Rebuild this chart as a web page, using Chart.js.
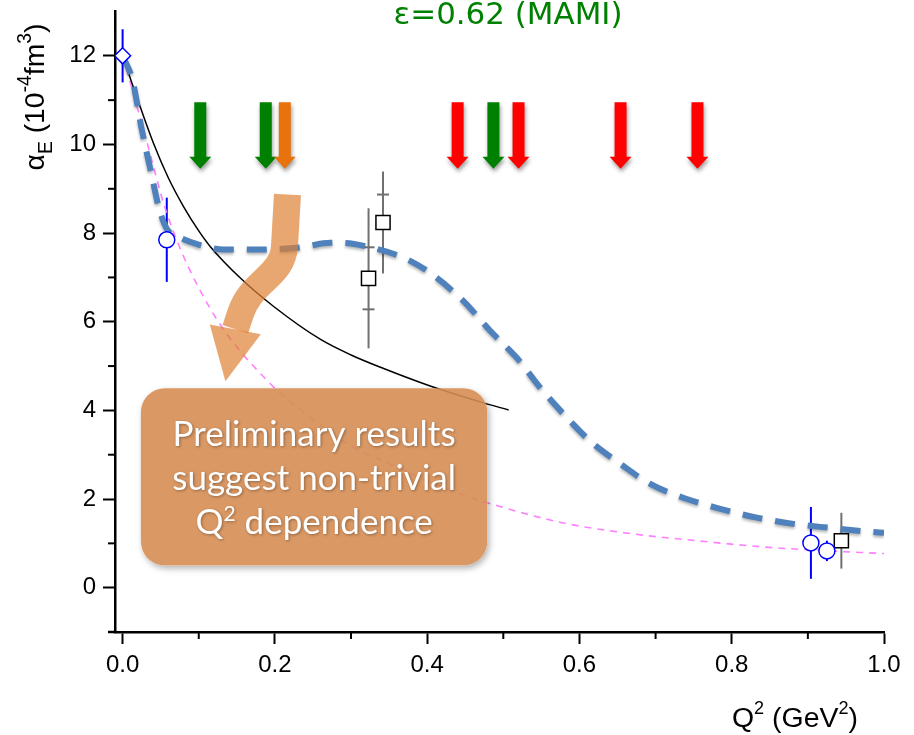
<!DOCTYPE html>
<html>
<head>
<meta charset="utf-8">
<script src="https://cdn.jsdelivr.net/npm/chart.js@4.4.1/dist/chart.umd.min.js"></script>
<style>
  html, body { margin: 0; padding: 0; background: #fff; }
  #c { display: block; }
</style>
</head>
<body>
<canvas id="c" width="914" height="735"></canvas>
<script>
// Axis ticks
var xMajorTicks = [0, 0.2, 0.4, 0.6, 0.8, 1.0];
var xMinorTicks = [0.1, 0.3, 0.5, 0.7, 0.9];
var yMajorTicks = [0, 2, 4, 6, 8, 10, 12];
var yMinorTicks = [1, 3, 5, 7, 9, 11];

// Thin magenta dashed curve
var pinkQ2    = [0, 0.028, 0.059, 0.115, 0.194, 0.25, 0.3, 0.35, 0.43, 0.492, 0.579, 0.667, 0.754, 0.841, 0.929, 1.0];
var pinkAlpha = [12, 10.3, 8.4, 6.3, 4.6, 3.8, 3.2, 2.8, 2.2, 1.85, 1.46, 1.22, 1.06, 0.92, 0.83, 0.77];

// Black solid curve
var blackQ2    = [0, 0.02, 0.04, 0.06, 0.08, 0.1, 0.115, 0.155, 0.198, 0.26, 0.3, 0.342, 0.404, 0.474, 0.507];
var blackAlpha = [12, 11.0, 10.05, 9.25, 8.6, 8.05, 7.7, 6.98, 6.35, 5.6, 5.25, 4.95, 4.55, 4.17, 4.01];

// Thick blue dashed curve
var bandQ2    = [0, 0.013, 0.025, 0.037, 0.048, 0.058, 0.073, 0.098, 0.133, 0.177, 0.234, 0.273, 0.29, 0.325, 0.371, 0.404,
                 0.448, 0.483, 0.518, 0.549, 0.579, 0.614, 0.654, 0.693, 0.741, 0.785, 0.833, 0.881, 0.929, 0.982, 1.0];
var bandAlpha = [12, 11.45, 10.35, 9.4, 8.55, 8.1, 7.92, 7.75, 7.63, 7.63, 7.68, 7.78, 7.78, 7.68, 7.43, 7.1,
                 6.46, 5.79, 5.18, 4.5, 3.92, 3.31, 2.79, 2.34, 2.0, 1.78, 1.58, 1.44, 1.35, 1.26, 1.24];

// Measured points
var diamondQ2 = [0.0], diamondAlpha = [12.0], diamondErr = [0.6];
var circleQ2 = [0.058, 0.904, 0.925], circleAlpha = [7.85, 1.01, 0.83], circleErr = [0.95, 0.81, 0.23];
var squareQ2 = [0.323, 0.342, 0.944], squareAlpha = [6.98, 8.24, 1.06];
var squareErr = [1.58, 1.15, 0.63], squareStatErr = [0.7, 0.63, null];

// Kinematic arrows along the top
var arrowQ2 = [0.102, 0.188, 0.213, 0.44, 0.487, 0.52, 0.654, 0.755];
var arrowColors = ['#008000', '#008000', '#e8720c', '#ff0000', '#008000', '#ff0000', '#ff0000', '#ff0000'];
var arrowTop = 10.95, arrowBottom = 9.45;

// Callout (data units)
var calloutBox = { q0: 0.024, q1: 0.479, a0: 4.5, a1: 0.5 };
var calloutLines = ['Preliminary results', 'suggest non-trivial', 'dependence'];
var curvedArrow = [[0.2165, 8.87], [0.2126, 7.70], [0.21, 7.02], [0.168, 6.91], [0.155, 6.19], [0.148, 5.83], [0.135, 4.66]];

function pts(xs, ys) {
  return xs.map(function (x, i) { return { x: x, y: ys[i] }; });
}

var SANS = '"Liberation Sans", Arial, sans-serif';
Chart.defaults.font.family = SANS;
Chart.defaults.color = '#000';

var BLUE = '#0000ff';
var GREY = '#707070';

// Error bars go under the curves and markers.
var errorBars = {
  id: 'errorBars',
  beforeDatasetsDraw: function (chart) {
    var ctx = chart.ctx, xs = chart.scales.x, ys = chart.scales.y;
    ctx.save();
    ctx.lineWidth = 2;
    ctx.strokeStyle = BLUE;
    function vbar(q, a, e) {
      var px = xs.getPixelForValue(q);
      ctx.beginPath();
      ctx.moveTo(px, ys.getPixelForValue(a + e));
      ctx.lineTo(px, ys.getPixelForValue(a - e));
      ctx.stroke();
    }
    diamondQ2.forEach(function (q, i) { vbar(q, diamondAlpha[i], diamondErr[i]); });
    circleQ2.forEach(function (q, i) { vbar(q, circleAlpha[i], circleErr[i]); });
    ctx.strokeStyle = GREY;
    squareQ2.forEach(function (q, i) {
      vbar(q, squareAlpha[i], squareErr[i]);
      var s = squareStatErr[i];
      if (s == null) return;
      var px = xs.getPixelForValue(q);
      [squareAlpha[i] + s, squareAlpha[i] - s].forEach(function (v) {
        var py = ys.getPixelForValue(v);
        ctx.beginPath();
        ctx.moveTo(px - 6, py);
        ctx.lineTo(px + 6, py);
        ctx.stroke();
      });
    });
    ctx.restore();
  },
  beforeDatasetDraw: function (chart, args) {
    if (args.index === 2) {
      chart.ctx.save();
      chart.ctx.shadowColor = 'rgba(0,0,0,0.3)';
      chart.ctx.shadowBlur = 3;
      chart.ctx.shadowOffsetY = 2;
    }
  },
  afterDatasetDraw: function (chart, args) {
    if (args.index === 2) chart.ctx.restore();
  }
};

// Text made of pieces (sub/superscripts), scaled to fit a target width.
function drawRich(ctx, parts, x, y, align, target) {
  function measure(k) {
    var total = 0;
    parts.forEach(function (p) {
      ctx.font = (p.size * k) + 'px ' + SANS;
      p.w = ctx.measureText(p.t).width;
      total += p.w;
    });
    return total;
  }
  var k = target ? target / measure(1) : 1;
  var total = measure(k);
  var cx = align === 'center' ? x - total / 2 : x;
  parts.forEach(function (p) {
    ctx.font = (p.size * k) + 'px ' + SANS;
    ctx.fillText(p.t, cx, y + p.dy * k);
    cx += p.w;
  });
}

var annotations = {
  id: 'annotations',
  afterDatasetsDraw: function (chart) {
    var ctx = chart.ctx, xs = chart.scales.x, ys = chart.scales.y;
    var area = chart.chartArea;

    // Minor ticks and the small axis overhang
    ctx.save();
    ctx.strokeStyle = '#000';
    ctx.lineWidth = 2;
    xMinorTicks.forEach(function (v) {
      var px = xs.getPixelForValue(v);
      ctx.beginPath(); ctx.moveTo(px, area.bottom); ctx.lineTo(px, area.bottom + 7); ctx.stroke();
    });
    yMinorTicks.forEach(function (v) {
      var py = ys.getPixelForValue(v);
      ctx.beginPath(); ctx.moveTo(area.left - 7, py); ctx.lineTo(area.left, py); ctx.stroke();
    });
    ctx.lineWidth = 2.5;
    ctx.beginPath(); ctx.moveTo(area.left - 7, area.bottom); ctx.lineTo(area.left, area.bottom); ctx.stroke();
    ctx.restore();

    // Vertical arrows
    var yT = ys.getPixelForValue(arrowTop), yB = ys.getPixelForValue(arrowBottom);
    arrowQ2.forEach(function (q, i) {
      var px = xs.getPixelForValue(q);
      ctx.save();
      ctx.shadowColor = 'rgba(0,0,0,0.4)';
      ctx.shadowBlur = 4;
      ctx.shadowOffsetX = 1;
      ctx.shadowOffsetY = 3;
      ctx.fillStyle = arrowColors[i];
      ctx.beginPath();
      ctx.moveTo(px - 6, yT);
      ctx.lineTo(px + 6, yT);
      ctx.lineTo(px + 6, yB - 12);
      ctx.lineTo(px + 11, yB - 12);
      ctx.lineTo(px, yB);
      ctx.lineTo(px - 11, yB - 12);
      ctx.lineTo(px - 6, yB - 12);
      ctx.closePath();
      ctx.fill();
      ctx.restore();
    });

    // Curved callout arrow
    var P = curvedArrow.map(function (p) { return [xs.getPixelForValue(p[0]), ys.getPixelForValue(p[1])]; });
    ctx.save();
    ctx.strokeStyle = 'rgba(222,128,52,0.7)';
    ctx.fillStyle = 'rgba(222,128,52,0.7)';
    ctx.lineWidth = 27;
    ctx.lineJoin = 'round';
    ctx.beginPath();
    ctx.moveTo(P[0][0], P[0][1]);
    ctx.lineTo(P[1][0], P[1][1]);
    ctx.bezierCurveTo(P[2][0], P[2][1], P[3][0], P[3][1], P[4][0], P[4][1]);
    ctx.lineTo(P[5][0], P[5][1]);
    ctx.stroke();
    var dx = P[6][0] - P[5][0], dy = P[6][1] - P[5][1];
    var len = Math.sqrt(dx * dx + dy * dy);
    var nx = -dy / len * 26, ny = dx / len * 26;
    ctx.beginPath();
    ctx.moveTo(P[5][0] + nx, P[5][1] + ny);
    ctx.lineTo(P[6][0], P[6][1]);
    ctx.lineTo(P[5][0] - nx, P[5][1] - ny);
    ctx.closePath();
    ctx.fill();
    ctx.restore();

    // Callout box: shadow first (outside only), then translucent fill
    var bx0 = xs.getPixelForValue(calloutBox.q0), bx1 = xs.getPixelForValue(calloutBox.q1);
    var by0 = ys.getPixelForValue(calloutBox.a0), by1 = ys.getPixelForValue(calloutBox.a1);
    ctx.save();
    ctx.beginPath();
    ctx.rect(0, 0, chart.width, chart.height);
    ctx.roundRect(bx0, by0, bx1 - bx0, by1 - by0, 24);
    ctx.clip('evenodd');
    ctx.shadowColor = 'rgba(0,0,0,0.3)';
    ctx.shadowBlur = 6;
    ctx.shadowOffsetX = 2;
    ctx.shadowOffsetY = 3;
    ctx.fillStyle = '#fff';
    ctx.beginPath();
    ctx.roundRect(bx0, by0, bx1 - bx0, by1 - by0, 24);
    ctx.fill();
    ctx.restore();
    ctx.save();
    ctx.fillStyle = 'rgba(214,141,83,0.9)';
    ctx.beginPath();
    ctx.roundRect(bx0, by0, bx1 - bx0, by1 - by0, 24);
    ctx.fill();
    ctx.restore();

    ctx.save();
    var fam = 'Lato, "Open Sans", sans-serif';
    ctx.font = '100px ' + fam;
    var fs = 100 * 283 / ctx.measureText(calloutLines[0]).width;
    ctx.fillStyle = '#fff';
    ctx.shadowColor = 'rgba(0,0,0,0.35)';
    ctx.shadowBlur = 3;
    ctx.shadowOffsetX = 1;
    ctx.shadowOffsetY = 1;
    ctx.textAlign = 'center';
    ctx.textBaseline = 'alphabetic';
    var cx = (bx0 + bx1) / 2;
    ctx.font = fs + 'px ' + fam;
    ctx.fillText(calloutLines[0], cx, by0 + 58);
    ctx.fillText(calloutLines[1], cx, by0 + 102);
    // third line: Q^2 dependence
    ctx.textAlign = 'left';
    var wQ = ctx.measureText('Q').width;
    var wD = ctx.measureText(' ' + calloutLines[2]).width;
    ctx.font = (fs * 0.6) + 'px ' + fam;
    var w2 = ctx.measureText('2').width;
    var x0 = cx - (wQ + w2 + wD) / 2;
    var base3 = by0 + 146;
    ctx.font = fs + 'px ' + fam;
    ctx.fillText('Q', x0, base3);
    ctx.font = (fs * 0.6) + 'px ' + fam;
    ctx.fillText('2', x0 + wQ, base3 - fs * 0.38);
    ctx.font = fs + 'px ' + fam;
    ctx.fillText(' ' + calloutLines[2], x0 + wQ + w2, base3);
    ctx.restore();
  },
  afterDraw: function (chart) {
    var ctx = chart.ctx;
    // Title
    ctx.save();
    ctx.fillStyle = '#008000';
    var tf = '"Comic Sans MS", "DejaVu Sans", sans-serif';
    ctx.font = '100px ' + tf;
    var title = '\u03B5=0.62 (MAMI)';
    var ts = 100 * 229 / ctx.measureText(title).width;
    ctx.font = ts + 'px ' + tf;
    ctx.textAlign = 'center';
    ctx.fillText(title, 508, 24);
    ctx.restore();

    // Y axis title (rotated)
    ctx.save();
    ctx.fillStyle = '#000';
    ctx.translate(44, 97);
    ctx.rotate(-Math.PI / 2);
    drawRich(ctx, [
      { t: '\u03B1', size: 22, dy: 0 },
      { t: 'E', size: 15, dy: 6 },
      { t: ' (10', size: 22, dy: 0 },
      { t: '-4', size: 15, dy: -10 },
      { t: 'fm', size: 22, dy: 0 },
      { t: '3', size: 15, dy: -10 },
      { t: ')', size: 22, dy: 0 }
    ], 0, 0, 'center', 147);
    ctx.restore();

    // X axis title
    ctx.save();
    ctx.fillStyle = '#000';
    drawRich(ctx, [
      { t: 'Q', size: 22, dy: 0 },
      { t: '2', size: 14, dy: -10 },
      { t: ' (GeV', size: 22, dy: 0 },
      { t: '2', size: 14, dy: -10 },
      { t: ')', size: 22, dy: 0 }
    ], 732, 727, 'left', 126);
    ctx.restore();
  }
};

function axisOpts(min, max, major, fmt, fit) {
  return {
    type: 'linear',
    min: min,
    max: max,
    afterBuildTicks: function (s) { s.ticks = major.map(function (v) { return { value: v }; }); },
    afterFit: function (s) {
      fit(s);
      s.paddingTop = 0; s.paddingBottom = 0; s.paddingLeft = 0; s.paddingRight = 0;
    },
    grid: { drawOnChartArea: false, drawTicks: true, tickLength: 12, tickWidth: 2, tickColor: '#000' },
    border: { display: true, color: '#000', width: 2.5 },
    ticks: { color: '#000', font: { size: 24 }, padding: 7, maxRotation: 0, autoSkip: false, callback: fmt }
  };
}

new Chart(document.getElementById('c'), {
  type: 'scatter',
  data: {
    datasets: [
      { label: 'diamond', data: pts(diamondQ2, diamondAlpha), pointStyle: 'rectRot', pointRadius: 8,
        backgroundColor: '#fff', borderColor: BLUE, borderWidth: 1.5, order: 0 },
      { label: 'circles', data: pts(circleQ2, circleAlpha), pointStyle: 'circle', pointRadius: 8,
        backgroundColor: '#fff', borderColor: BLUE, borderWidth: 1.5, order: 0 },
      { label: 'band', data: pts(bandQ2, bandAlpha), showLine: true, borderColor: '#4f81bd', borderWidth: 6,
        borderDash: [20, 13], pointRadius: 0, cubicInterpolationMode: 'monotone', order: 3 },
      { label: 'squares', data: pts(squareQ2, squareAlpha), pointStyle: 'rect', pointRadius: 10,
        backgroundColor: '#fff', borderColor: '#000', borderWidth: 1.5, order: 0 },
      { label: 'black', data: pts(blackQ2, blackAlpha), showLine: true, borderColor: '#000', borderWidth: 1.5,
        pointRadius: 0, cubicInterpolationMode: 'monotone', order: 4 },
      { label: 'pink', data: pts(pinkQ2, pinkAlpha), showLine: true, borderColor: '#ff80ff', borderWidth: 1.6,
        borderDash: [7, 6], pointRadius: 0, cubicInterpolationMode: 'monotone', order: 5 }
    ]
  },
  options: {
    responsive: false,
    animation: false,
    events: [],
    layout: { padding: { top: 10, right: 30, left: 0, bottom: 0 } },
    plugins: { legend: { display: false }, tooltip: { enabled: false } },
    scales: {
      x: axisOpts(-0.01, 1.0, xMajorTicks, function (v) { return Number(v).toFixed(1); },
        function (s) { s.height = 103; }),
      y: axisOpts(-1, 13, yMajorTicks, function (v) { return String(v); },
        function (s) { s.width = 115; })
    }
  },
  plugins: [errorBars, annotations]
});
</script>
</body>
</html>
